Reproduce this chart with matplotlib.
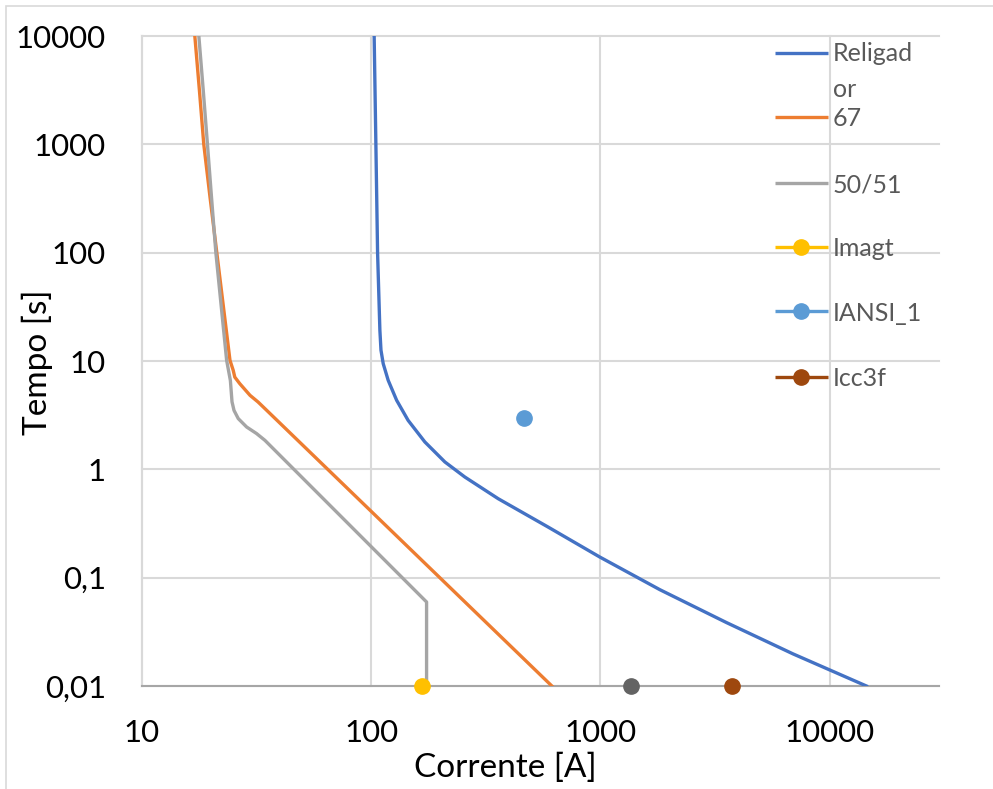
import matplotlib
matplotlib.use("Agg")
import matplotlib.pyplot as plt
from matplotlib.patches import Rectangle
from matplotlib.ticker import NullLocator

plt.rcParams['font.family'] = ['Lato', 'DejaVu Sans']

# ---- data ----
religador_i = [103.0, 104.8, 106.6, 109.1, 110.3, 112.8, 118.6, 129.1, 144.9,
               171.4, 209.6, 256.2, 358, 591.6, 994, 1816, 3548, 6918, 14470]
religador_t = [10000, 1000, 100, 19.2, 12.6, 9.46, 6.63, 4.34, 2.83,
               1.79, 1.17, 0.849, 0.536, 0.293, 0.155, 0.0775, 0.0385, 0.0198, 0.01]

r67_i = [17.0, 17.8, 18.6, 19.8, 21.2, 24.2, 25.0, 25.4, 26.7, 29.6, 32.1, 34.4, 614]
r67_t = [10000, 3162, 1000, 326, 100, 10.15, 8.2, 7.1, 6.18, 4.82, 4.18, 3.63, 0.01]

r5051_i = [17.7, 18.5, 19.3, 20.1, 21.0, 23.4, 24.3, 24.7, 25.2, 26.3, 28.6, 31.6, 34.4,
           174.4, 174.4]
r5051_t = [10000, 3162, 1000, 326, 100, 10.15, 6.6, 4.2, 3.5, 2.94, 2.46, 2.14, 1.85,
           0.0596, 0.01]

imagt_i, imagt_t = [166.7], [0.01]
iansi_i, iansi_t = [463.6], [3.0]
extra_i, extra_t = [1357], [0.01]
icc3f_i, icc3f_t = [3733], [0.01]

x_ticks = [10, 100, 1000, 10000]
x_labels = ["10", "100", "1000", "10000"]
y_ticks = [0.01, 0.1, 1, 10, 100, 1000, 10000]
y_labels = ["0,01", "0,1", "1", "10", "100", "1000", "10000"]

legend_labels = ["Religad\nor", "67", "50/51", "Imagt", "IANSI_1", "Icc3f"]

# ---- figure ----
W, H = 993, 789
fig = plt.figure(figsize=(W / 100, H / 100), dpi=100)
fig.add_artist(Rectangle((6 / W, -0.1), 1.2, 0.1 + 1 - 6 / H, transform=fig.transFigure,
                         fill=False, edgecolor='#D9D9D9', lw=1.2))

ax = fig.add_axes([142 / W, 103 / H, 797 / W, 650 / H])
ax.set_xscale('log')
ax.set_yscale('log')
ax.set_xlim(10, 30000)
ax.set_ylim(0.01, 10000)
ax.xaxis.set_minor_locator(NullLocator())
ax.yaxis.set_minor_locator(NullLocator())
ax.set_xticks(x_ticks, x_labels)
ax.set_yticks(y_ticks, y_labels)
ax.tick_params(length=0, labelsize=22.5, colors='black')
ax.tick_params(axis='y', pad=26)
ax.tick_params(axis='x', pad=24)
ax.grid(True, color='#D9D9D9', lw=1.5)
for gl in ax.get_ygridlines() + ax.get_xgridlines():
    gl.set_clip_on(False)
for s in ['top', 'right']:
    ax.spines[s].set_visible(False)
ax.spines['left'].set_color('#D9D9D9')
ax.spines['left'].set_linewidth(1.5)
ax.spines['bottom'].set_color('#A6A6A6')
ax.spines['bottom'].set_linewidth(1.5)
ax.set_axisbelow(True)

c_rel, c_67, c_5051 = '#4472C4', '#ED7D31', '#A5A5A5'
c_imagt, c_iansi, c_extra, c_icc = '#FFC000', '#5B9BD5', '#636363', '#9E480E'
lw = 2.4
ms = 11

ax.plot(religador_i, religador_t, color=c_rel, lw=lw, zorder=3, solid_joinstyle='round')
ax.plot(r67_i, r67_t, color=c_67, lw=lw, zorder=3, solid_joinstyle='round')
ax.plot(r5051_i, r5051_t, color=c_5051, lw=lw, zorder=3, solid_joinstyle='round')
ax.plot(imagt_i, imagt_t, 'o', color=c_imagt, ms=ms, clip_on=False, zorder=4)
ax.plot(iansi_i, iansi_t, 'o', color=c_iansi, ms=ms, clip_on=False, zorder=4)
ax.plot(extra_i, extra_t, 'o', color=c_extra, ms=ms, clip_on=False, zorder=4)
ax.plot(icc3f_i, icc3f_t, 'o', color=c_icc, ms=ms, clip_on=False, zorder=4)

# axis titles
fig.text(505 / W, 1 - 768 / H, "Corrente [A]", ha='center', va='center', fontsize=24)
fig.text(37 / W, 1 - 362 / H, "Tempo [s]", ha='center', va='center', rotation=90,
         fontsize=24)

# legend (Excel-style, drawn in axes fraction)
leg_colors = [c_rel, c_67, c_5051, c_imagt, c_iansi, c_icc]
leg_marker = [False, False, False, True, True, True]
leg_y_px = [53, 117, 183, 247, 311, 377]
x0 = (775 - 142) / 797
x1 = (828 - 142) / 797
xm = (801 - 142) / 797
xt = (833 - 142) / 797
for lab, col, mk, ypx in zip(legend_labels, leg_colors, leg_marker, leg_y_px):
    fy = 1 - (ypx - 36) / 650
    ax.plot([x0, x1], [fy, fy], color=col, lw=lw, transform=ax.transAxes,
            clip_on=False, zorder=5, solid_capstyle='butt')
    if mk:
        ax.plot([xm], [fy], 'o', color=col, ms=ms, transform=ax.transAxes,
                clip_on=False, zorder=6)
    if "\n" in lab:
        ftop = 1 - (ypx - 11 - 36) / 650
        ax.text(xt, ftop, lab, transform=ax.transAxes, ha='left', va='top',
                fontsize=18, color='#595959', linespacing=1.7, zorder=6)
    else:
        ax.text(xt, fy, lab, transform=ax.transAxes, ha='left', va='center_baseline',
                fontsize=18, color='#595959', zorder=6)

fig.savefig("out.png", dpi=100)
